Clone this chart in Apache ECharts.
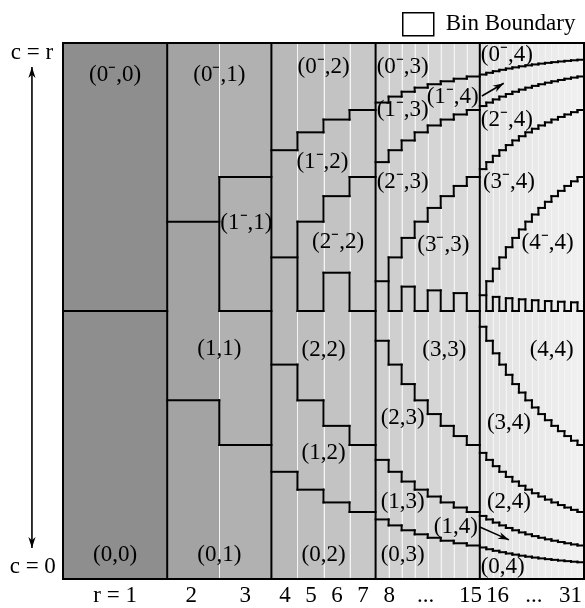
<!DOCTYPE html>
<html><head><meta charset="utf-8">
<script src="https://cdn.jsdelivr.net/npm/echarts@6/dist/echarts.min.js"></script>
<style>html,body{margin:0;padding:0;background:#fff}#c{width:585px;height:608px}</style>
</head><body><div id="c"></div>
<script>
// ---------------- data ----------------
// columns r = 1..31; group g = floor(log2 r) spans one x unit, holding 2^g columns
const columns = [1,2,3,4,5,6,7,8,9,10,11,12,13,14,15,16,17,18,19,20,21,22,23,24,25,26,27,28,29,30,31];
// gray level of each column's fill
const columnGray = [142, 163,177, 185,190,195,200, 205,207,209,211,213,215,217,219,
  225,226,227,228,229,230,231,232,233,234,235,236,237,238,239,240];
// tick labels under the plot: [x (group units), text]
const tickLabels = [[0.50,'r = 1'],[1.23,'2'],[1.75,'3'],[2.13,'4'],[2.38,'5'],[2.63,'6'],[2.88,'7'],
  [3.13,'8'],[3.48,'...'],[3.91,'15'],[4.17,'16'],[4.52,'...'],[4.87,'31']];
// bin labels: [x (group units), y (fraction of c/r), text]
const M = '\u207B';
const binLabels = [
  [0.50,0.940,'(0'+M+',0)'],[0.50,0.045,'(0,0)'],
  [1.50,0.940,'(0'+M+',1)'],[1.76,0.664,'(1'+M+',1)'],[1.50,0.429,'(1,1)'],[1.50,0.045,'(0,1)'],
  [2.50,0.955,'(0'+M+',2)'],[2.49,0.778,'(1'+M+',2)'],[2.64,0.629,'(2'+M+',2)'],
  [2.50,0.427,'(2,2)'],[2.50,0.235,'(1,2)'],[2.50,0.045,'(0,2)'],
  [3.26,0.955,'(0'+M+',3)'],[3.26,0.875,'(1'+M+',3)'],[3.74,0.899,'(1'+M+',4)'],
  [3.26,0.741,'(2'+M+',3)'],[3.65,0.623,'(3'+M+',3)'],
  [4.26,0.978,'(0'+M+',4)'],[4.26,0.856,'(2'+M+',4)'],[4.28,0.741,'(3'+M+',4)'],[4.65,0.627,'(4'+M+',4)'],
  [3.66,0.427,'(3,3)'],[4.69,0.427,'(4,4)'],
  [3.26,0.300,'(2,3)'],[4.28,0.291,'(3,4)'],
  [3.26,0.144,'(1,3)'],[4.28,0.144,'(2,4)'],[3.77,0.097,'(1,4)'],
  [3.26,0.045,'(0,3)'],[4.22,0.022,'(0,4)']
];
// side annotations: [x, y, text]
const sideLabels = [[-0.298,0.981,'c = r'],[-0.290,0.022,'c = 0']];
// arrows: [x1,y1,x2,y2, head at start?, head at end?]
const arrows = [[-0.298,0.058,-0.298,0.955,1,1],[4.02,0.901,4.23,0.925,0,1],[4.00,0.097,4.28,0.073,0,1]];

// ---------------- bin structure ----------------
function groupOf(r){ return Math.floor(Math.log2(r)); }
function colRange(r){ const g=groupOf(r), n=Math.pow(2,g); const x0=g+(r-n)/n; return [x0,x0+1/n]; }
function level(d){ return d===0 ? 0 : Math.floor(Math.log2(d))+1; }
function binOf(r,c){ const g=groupOf(r); return c<(r+1)/2 ? 'L'+Math.min(level(c),g) : 'U'+Math.min(level(r-c),g); }

const segments=[];   // [x1,y1,x2,y2]
columns.forEach(function(r){
  const xr=colRange(r);
  for(let c=1;c<=r;c++){ if(binOf(r,c-1)!==binOf(r,c)) segments.push([xr[0],c/(r+1),xr[1],c/(r+1)]); }
  const r2=r+1;
  if(r2<=31 && groupOf(r2)===groupOf(r)){
    const ys=[]; for(let k=0;k<=r+1;k++) ys.push(k/(r+1)); for(let k=0;k<=r2+1;k++) ys.push(k/(r2+1));
    ys.sort(function(a,b){return a-b;});
    let start=null;
    for(let i=0;i<ys.length-1;i++){
      const a=ys[i], b=ys[i+1]; if(b-a<1e-9) continue;
      const m=(a+b)/2;
      const diff = binOf(r,Math.floor(m*(r+1)))!==binOf(r2,Math.floor(m*(r2+1)));
      if(diff){ if(start===null) start=a; }
      else if(start!==null){ segments.push([xr[1],start,xr[1],a]); start=null; }
      if(diff && i===ys.length-2){ segments.push([xr[1],start,xr[1],b]); start=null; }
    }
  }
});
// group dividers and frame
[1,2,3,4].forEach(function(x){ segments.push([x,0,x,1]); });
segments.push([0,0,5,0],[0,1,5,1],[0,0,0,1],[5,0,5,1]);

const separators=[];
columns.forEach(function(r){ const r2=r+1; if(r2<=31&&groupOf(r2)===groupOf(r)) separators.push([colRange(r)[1]]); });

// ---------------- chart ----------------
const FONT='"Liberation Serif","Times New Roman",serif';
const FS=23;
const chart=echarts.init(document.getElementById('c'),null,{renderer:'canvas'});
function txt(api,x,y,t){
  const p=api.coord([x,y]);
  return {type:'text',x:p[0],y:p[1],style:{text:t,fill:'#000',fontSize:FS,fontFamily:FONT,
    align:'center',verticalAlign:'middle',textAlign:'center',textVerticalAlign:'middle'}};
}
chart.setOption({
  animation:false,
  grid:{left:63,right:1,top:43,bottom:29},
  xAxis:{type:'value',min:0,max:5,show:false},
  yAxis:{type:'value',min:0,max:1,show:false},
  legend:{left:402,top:12,padding:0,itemWidth:31,itemHeight:23,selectedMode:false,
    data:[{name:'Bin Boundary',icon:'rect',itemStyle:{color:'#fff',borderColor:'#000',borderWidth:1.5}}],
    textStyle:{fontSize:FS,fontFamily:FONT,color:'#000',padding:[0,0,0,7]}},
  series:[
    {type:'custom',name:'cells',silent:true,data:columns.map(function(r,i){return [r,columnGray[i]];}),
      renderItem:function(params,api){
        const r=api.value(0), gv=api.value(1), xr=colRange(r);
        const p0=api.coord([xr[0],1]), p1=api.coord([xr[1],0]);
        return {type:'rect',shape:{x:p0[0],y:p0[1],width:p1[0]-p0[0],height:p1[1]-p0[1]},
          style:{fill:'rgb('+gv+','+gv+','+gv+')'}};
      }},
    {type:'custom',name:'sep',silent:true,data:separators,
      renderItem:function(params,api){
        const a=api.coord([api.value(0),0]), b=api.coord([api.value(0),1]);
        const x=Math.round(a[0])+0.5;
        return {type:'line',shape:{x1:x,y1:a[1],x2:x,y2:b[1]},style:{stroke:'#f4f4f4',lineWidth:1}};
      }},
    {type:'custom',name:'Bin Boundary',silent:true,data:segments,
      renderItem:function(params,api){
        const a=api.coord([api.value(0),api.value(1)]), b=api.coord([api.value(2),api.value(3)]);
        return {type:'line',shape:{x1:a[0],y1:a[1],x2:b[0],y2:b[1]},style:{stroke:'#000',lineWidth:2,lineCap:'square'}};
      }},
    {type:'custom',name:'arrows',silent:true,clip:false,data:arrows,
      renderItem:function(params,api){
        const a=api.coord([api.value(0),api.value(1)]), b=api.coord([api.value(2),api.value(3)]);
        const ch=[{type:'line',shape:{x1:a[0],y1:a[1],x2:b[0],y2:b[1]},style:{stroke:'#000',lineWidth:1.6}}];
        function head(tip,from){
          const dx=tip[0]-from[0], dy=tip[1]-from[1], L=Math.sqrt(dx*dx+dy*dy), ux=dx/L, uy=dy/L;
          const len=11, w=3.6;
          ch.push({type:'polygon',shape:{points:[[tip[0],tip[1]],
            [tip[0]-ux*len+uy*w,tip[1]-uy*len-ux*w],[tip[0]-ux*len*0.7,tip[1]-uy*len*0.7],
            [tip[0]-ux*len-uy*w,tip[1]-uy*len+ux*w]]},style:{fill:'#000'}});
        }
        if(api.value(4)) head(a,b);
        if(api.value(5)) head(b,a);
        return {type:'group',children:ch};
      }},
    {type:'custom',name:'binLabels',silent:true,clip:false,data:binLabels.map(function(d,i){return [d[0],d[1],i];}),
      renderItem:function(params,api){ const d=binLabels[api.value(2)]; return txt(api,d[0],d[1],d[2]); }},
    {type:'custom',name:'ticks',silent:true,clip:false,data:tickLabels.map(function(d,i){return [d[0],-0.032,i];}),
      renderItem:function(params,api){ return txt(api,api.value(0),api.value(1),tickLabels[api.value(2)][1]); }},
    {type:'custom',name:'side',silent:true,clip:false,data:sideLabels.map(function(d,i){return [d[0],d[1],i];}),
      renderItem:function(params,api){ return txt(api,api.value(0),api.value(1),sideLabels[api.value(2)][2]); }}
  ]
});
</script></body></html>
